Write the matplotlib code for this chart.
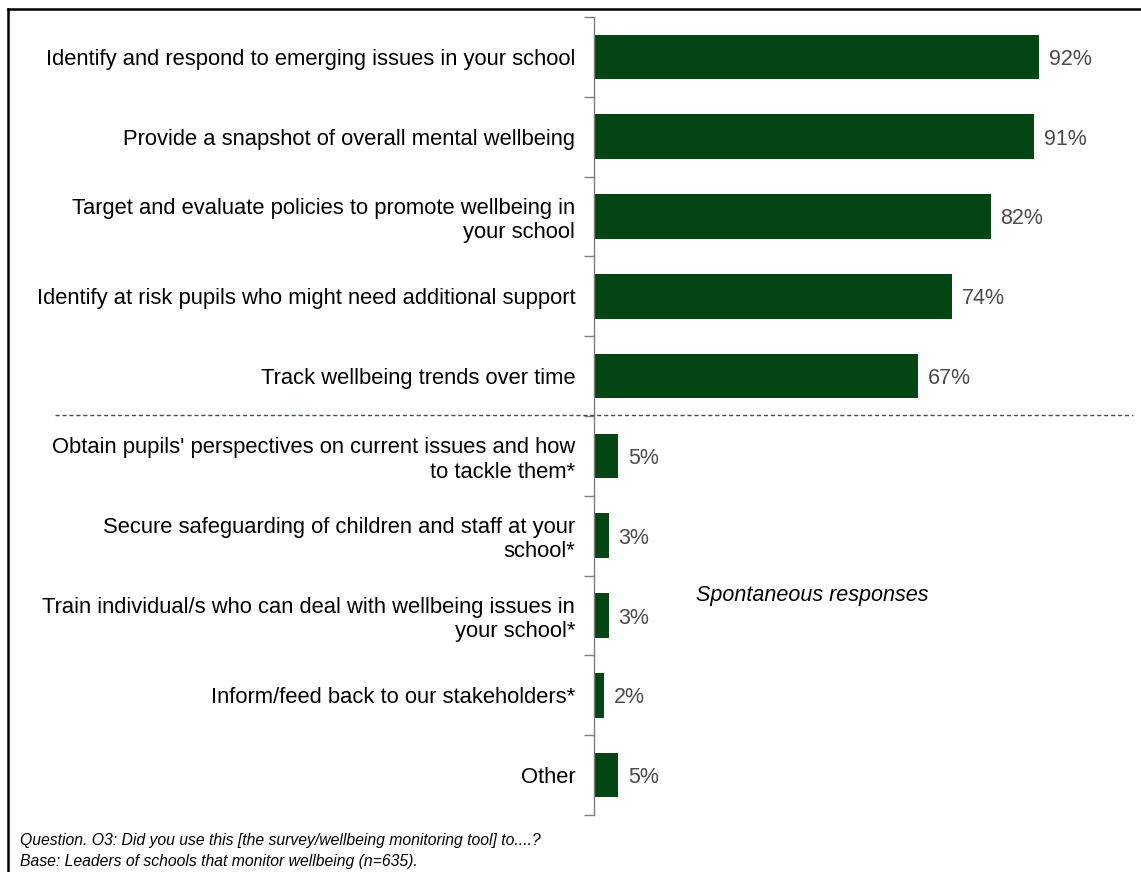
import matplotlib

matplotlib.use("Agg")
import matplotlib.pyplot as plt
from matplotlib.lines import Line2D
import numpy as np

plt.rcParams["font.family"] = ["Liberation Sans", "DejaVu Sans"]

# Uses of the wellbeing monitoring tool, prompted first then spontaneous
categories = [
    "Identify and respond to emerging issues in your school",
    "Provide a snapshot of overall mental wellbeing",
    "Target and evaluate policies to promote wellbeing in\nyour school",
    "Identify at risk pupils who might need additional support",
    "Track wellbeing trends over time",
    "Obtain pupils' perspectives on current issues and how\nto tackle them*",
    "Secure safeguarding of children and staff at your\nschool*",
    "Train individual/s who can deal with wellbeing issues in\nyour school*",
    "Inform/feed back to our stakeholders*",
    "Other",
]
values = [92, 91, 82, 74, 67, 5, 3, 3, 2, 5]
n_prompted = 5

BAR = "#034614"
GREY = "#808080"
FS = 15.8

W, H = 1141, 872
fig = plt.figure(figsize=(W / 100, H / 100), dpi=100)
ax = fig.add_axes([594 / W, 1 - 815 / H, 484 / W, 798 / H])

y = np.arange(len(categories))
ax.barh(y, values, height=0.56, color=BAR)
ax.set_ylim(len(categories) - 0.5, -0.5)
ax.set_xlim(0, 100)

# category boundaries carry the ticks, labels sit between them
ax.set_yticks(np.arange(len(categories) + 1) - 0.5)
ax.set_yticklabels([])
ax.set_yticks(y, minor=True)
ax.set_yticklabels(categories, minor=True, fontsize=FS, ha="right")
ax.tick_params(axis="y", which="major", length=7, color=GREY, width=1)
ax.tick_params(axis="y", which="minor", length=0, pad=13.5)
ax.set_xticks([])
for side in ["top", "right", "bottom"]:
    ax.spines[side].set_visible(False)
ax.spines["left"].set_color(GREY)
ax.spines["left"].set_linewidth(1)

for yi, v in zip(y, values):
    ax.annotate(f"{v}%", (v, yi), xytext=(7, 0), textcoords="offset points",
                va="center_baseline", ha="left", fontsize=15.5, color="#4a4a4a")

# separator between prompted and spontaneous answers
fig.add_artist(Line2D([55 / W, 1133 / W], [1 - 415 / H, 1 - 415 / H],
                      transform=fig.transFigure, color="#2E5470",
                      linestyle=(0, (3, 2)), linewidth=1))

fig.text(696 / W, 1 - 595 / H, "Spontaneous responses",
         fontsize=15.5, style="italic", va="center", ha="left")

fig.text(20 / W, 1 - 840 / H,
         "Question. O3: Did you use this [the survey/wellbeing monitoring tool] to....?",
         fontsize=11.3, style="italic", va="center")
fig.text(20 / W, 1 - 861 / H,
         "Base: Leaders of schools that monitor wellbeing (n=635).",
         fontsize=11.3, style="italic", va="center")

# frame along top and left edges
fig.add_artist(Line2D([7.5 / W, 1], [1 - 9 / H, 1 - 9 / H], transform=fig.transFigure,
                      color="black", linewidth=1.8))
fig.add_artist(Line2D([7.5 / W, 7.5 / W], [0, 1 - 9 / H], transform=fig.transFigure,
                      color="black", linewidth=1.8))

fig.savefig("out.png", dpi=100)
